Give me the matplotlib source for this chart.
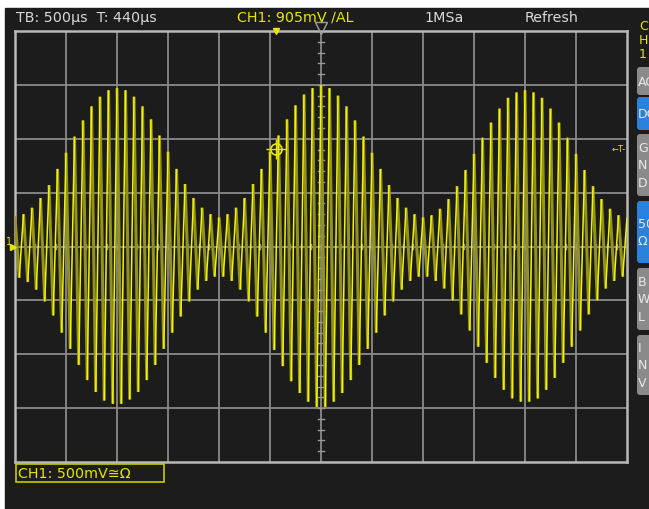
import numpy as np
import matplotlib.pyplot as plt
from matplotlib.patches import Rectangle, FancyBboxPatch
from matplotlib.collections import LineCollection

W, H = 649, 510

# scope settings
time_per_div_ms = 0.5
volts_per_div = 0.5
trigger_time_ms = -0.44
trigger_level_v = 0.905

# peak voltage of each half cycle (alternating sign)
peak_volts = [
    0.28, 0.29, 0.30, 0.33, 0.36, 0.40, 0.45, 0.51, 0.57, 0.64, 0.72, 0.80, 0.87,
    0.95, 1.02, 1.10, 1.17, 1.24, 1.30, 1.35, 1.39, 1.43, 1.45, 1.46, 1.47,
    1.46, 1.45, 1.42, 1.39, 1.35, 1.30, 1.24, 1.18, 1.10, 1.03, 0.95, 0.88,
    0.80, 0.72, 0.65, 0.58, 0.51, 0.45, 0.40, 0.36, 0.32, 0.30, 0.28, 0.27,
    0.28, 0.30, 0.32, 0.36, 0.40, 0.45, 0.51, 0.58, 0.65, 0.72, 0.80, 0.88,
    0.96, 1.03, 1.11, 1.18, 1.25, 1.31, 1.36, 1.41, 1.44, 1.47, 1.49, 1.50,
    1.49, 1.47, 1.44, 1.40, 1.36, 1.30, 1.24, 1.17, 1.10, 1.02, 0.95, 0.87,
    0.80, 0.72, 0.64, 0.57, 0.51, 0.45, 0.40, 0.36, 0.32, 0.30, 0.28, 0.27,
    0.28, 0.29, 0.32, 0.35, 0.39, 0.44, 0.50, 0.56, 0.63, 0.71, 0.78, 0.86,
    0.93, 1.01, 1.08, 1.15, 1.22, 1.28, 1.33, 1.38, 1.41, 1.43, 1.44, 1.45,
    1.44, 1.43, 1.41, 1.38, 1.33, 1.28, 1.22, 1.15, 1.08, 1.01, 0.93, 0.86,
    0.78, 0.71, 0.63, 0.56, 0.50, 0.44, 0.39, 0.35, 0.32, 0.29, 0.28, 0.27,
]

header_items = ["TB: 500µs  T: 440µs", "CH1: 905mV ∕AL", "1MSa", "Refresh"]
channel_label = "CH1: 500mV≅Ω"
buttons = [("AC", "gray"), ("DC", "blue"), ("G\nN\nD", "gray"),
           ("50\nΩ", "blue"), ("B\nW\nL", "gray"), ("I\nN\nV", "gray")]

n = len(peak_volts)
t_ms = np.linspace(-6 * time_per_div_ms, 6 * time_per_div_ms, n)
signs = np.where(np.arange(n) % 2 == 0, 1, -1)
trace_v = np.array(peak_volts) * signs

YEL = '#e6e600'
BG = '#1c1c1c'

fig = plt.figure(figsize=(W / 100, H / 100), dpi=100, facecolor='white')

# overlay in pixel coords for the screen furniture
ov = fig.add_axes([0, 0, 1, 1], zorder=0)
ov.set_xlim(0, W)
ov.set_ylim(H, 0)
ov.axis('off')
ov.add_patch(Rectangle((5, 9), W, H, color=BG))

# grid axes
ax = fig.add_axes([15 / W, 47 / H, 612 / W, 431 / H], zorder=1)
ax.set_facecolor('none')
ax.set_xlim(-6 * time_per_div_ms, 6 * time_per_div_ms)
ax.set_ylim(-4 * volts_per_div, 4 * volts_per_div)
ax.set_xticks([])
ax.set_yticks([])
for s in ax.spines.values():
    s.set_color('#b8b8b8')
    s.set_linewidth(1.8)

for x in np.arange(-5, 6) * time_per_div_ms:
    ax.axvline(x, color='#8a8a8a', lw=1.3, zorder=1)
for y in np.arange(-3, 4) * volts_per_div:
    ax.axhline(y, color='#8a8a8a', lw=1.3, zorder=1)

# fine ticks on the centre cross
for y in np.arange(-2, 2.01, volts_per_div / 5):
    ax.plot([-0.03, 0.03], [y, y], color='#9a9a9a', lw=1.0, zorder=1)
for x in np.arange(-3, 3.01, time_per_div_ms / 5):
    ax.plot([x, x], [-0.025, 0.025], color='#9a9a9a', lw=1.0, zorder=1)

# the waveform: falling edges dim, rising edges bright (like the scope)
pts = np.column_stack([t_ms, trace_v])
segs = np.stack([pts[:-1], pts[1:]], axis=1)
falling = trace_v[1:] < trace_v[:-1]
ax.add_collection(LineCollection(segs[falling], colors='#92921c',
                                 linewidths=2.2, zorder=3))
ax.add_collection(LineCollection(segs[~falling], colors='#f4f400',
                                 linewidths=1.1, zorder=4))

# trigger marker
ax.plot(trigger_time_ms, trigger_level_v, marker='o', ms=8, mfc='none',
        mec=YEL, mew=1.2, zorder=5)
ax.plot(trigger_time_ms, trigger_level_v, marker='+', ms=15, mec=YEL,
        mew=1.0, zorder=5)
ax.text(2.99, trigger_level_v, "←T-", color=YEL, fontsize=6, ha='right',
        va='center', zorder=5)
ax.plot(trigger_time_ms, 2.0, marker='v', ms=5, color=YEL, clip_on=False,
        zorder=6)
ax.plot(0, 2.03, marker='v', ms=8, mfc='none', mec='#a0a0a0', mew=1.0,
        clip_on=False, zorder=6)
ax.plot(-3.02, 0, marker='>', ms=5, color=YEL, clip_on=False, zorder=6)
ov.text(6, 242, "1", color=YEL, fontsize=7, ha='left', va='center')

# header
ov.text(16, 18, header_items[0], color='#d8d8d8', fontsize=10.3, va='center')
ov.text(237, 18, header_items[1], color=YEL, fontsize=10.3, va='center')
ov.text(424, 18, header_items[2], color='#d8d8d8', fontsize=10.3, va='center')
ov.text(525, 18, header_items[3], color='#d8d8d8', fontsize=10.3, va='center')
for i, ch in enumerate("CH1"):
    ov.text(639, 26 + i * 14, ch, color=YEL, fontsize=9, va='center')

# channel box
ov.add_patch(Rectangle((16, 465), 148, 18, fill=False, ec='#c8c800', lw=1.2))
ov.text(18, 474, channel_label, color=YEL, fontsize=10.3, va='center')

# side buttons (cut off by the screen edge, as on the scope)
spans = [(67, 97), (97, 132), (134, 198), (201, 265), (268, 332), (335, 397)]
for (label, kind), (y0, y1) in zip(buttons, spans):
    fc = '#8a8a8a' if kind == 'gray' else '#2a82dc'
    ov.add_patch(FancyBboxPatch((637, y0 + 1), 30, y1 - y0 - 2,
                                boxstyle='round,pad=0,rounding_size=3',
                                fc=fc, ec='none'))
    ov.text(638, (y0 + y1) / 2, label, color='#e8e8e8', fontsize=9,
            va='center', linespacing=1.45)

fig.savefig('out.png', dpi=100, facecolor='white')
